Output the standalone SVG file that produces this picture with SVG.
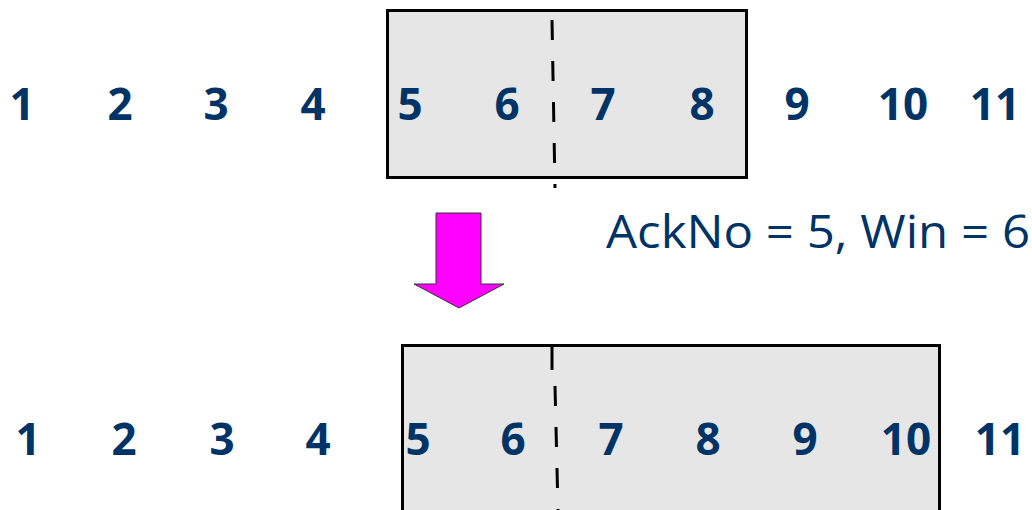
<svg xmlns="http://www.w3.org/2000/svg" width="1032" height="510" viewBox="0 0 1032 510">
<style>
.n{font-family:"Open Sans","Liberation Sans",sans-serif;font-weight:bold;font-size:44px;fill:#003366;text-anchor:middle}
.lbl{font-family:"Open Sans","Liberation Sans",sans-serif;font-size:46px;fill:#003366}
.box{fill:#e6e6e6;stroke:#000;stroke-width:3}
.dash{stroke:#000;stroke-width:3;fill:none;stroke-dasharray:20 21}
</style>
<rect width="1032" height="510" fill="#fff"/>
<g id="top-window">
<rect class="box" x="387.5" y="10.5" width="359" height="167"/>
<line class="dash" x1="552" y1="20" x2="555" y2="188"/>
</g>
<g id="top-row">
<text class="n" x="22" y="120">1</text>
<text class="n" x="120" y="120">2</text>
<text class="n" x="216" y="120">3</text>
<text class="n" x="313" y="120">4</text>
<text class="n" x="410" y="120">5</text>
<text class="n" x="507" y="120">6</text>
<text class="n" x="603" y="120">7</text>
<text class="n" x="702" y="120">8</text>
<text class="n" x="797" y="120">9</text>
<text class="n" x="903" y="120">10</text>
<text class="n" x="995" y="120">11</text>
</g>
<g id="arrow">
<polygon points="436,213 481,213 481,284 504,284 459,308 414,284 436,284" fill="#ff00ff" stroke="#333" stroke-width="1"/>
</g>
<g id="label">
<text class="lbl" x="606" y="248" textLength="424" lengthAdjust="spacingAndGlyphs">AckNo = 5, Win = 6</text>
</g>
<g id="bottom-window">
<rect class="box" x="402.5" y="345.5" width="537" height="170"/>
<line x1="552" y1="345" x2="552" y2="370" stroke="#000" stroke-width="3"/>
<line class="dash" x1="555" y1="386" x2="558" y2="510"/>
</g>
<g id="bottom-row">
<text class="n" x="28" y="455">1</text>
<text class="n" x="124" y="455">2</text>
<text class="n" x="222" y="455">3</text>
<text class="n" x="318" y="455">4</text>
<text class="n" x="418" y="455">5</text>
<text class="n" x="513" y="455">6</text>
<text class="n" x="611" y="455">7</text>
<text class="n" x="708" y="455">8</text>
<text class="n" x="805" y="455">9</text>
<text class="n" x="906" y="455">10</text>
<text class="n" x="1000" y="455">11</text>
</g>
</svg>
